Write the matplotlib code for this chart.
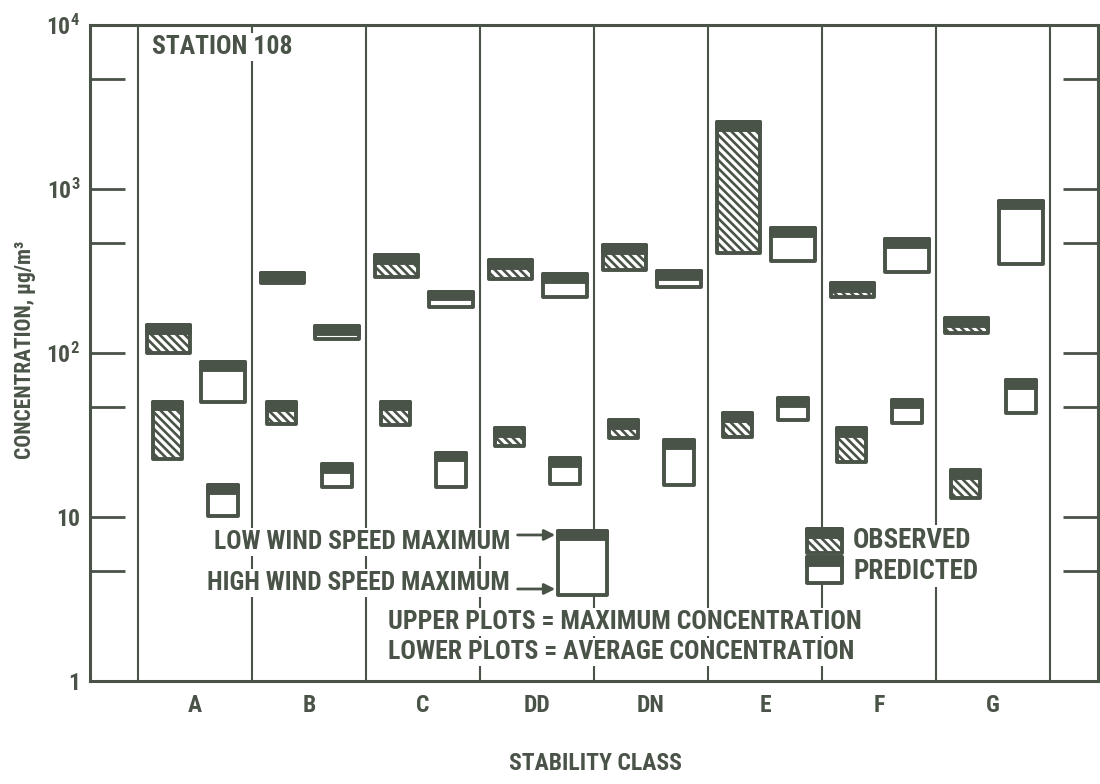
import matplotlib
matplotlib.use('Agg')
import matplotlib.pyplot as plt
from matplotlib import font_manager
from matplotlib.patches import Rectangle

classes = ['A', 'B', 'C', 'DD', 'DN', 'E', 'F', 'G']

# upper plots = maximum concentration, lower plots = average concentration
# each box runs from the high wind speed value (lo) to the low wind speed value (hi), ug/m3
obs_max_lo = [100, 266, 292, 281, 321, 405, 219, 132]
obs_max_hi = [148, 306, 396, 369, 456, 2570, 266, 164]
pred_max_lo = [50, 122, 192, 220, 254, 365, 313, 349]
pred_max_hi = [88, 146, 237, 302, 316, 576, 493, 849]
obs_avg_lo = [22.5, 36.7, 36.4, 27.1, 30.2, 30.9, 21.5, 13.0]
obs_avg_hi = [50.5, 50, 50.5, 34.7, 39, 42.9, 34.7, 19.4]
pred_avg_lo = [10.2, 15.3, 15.3, 15.9, 15.7, 39, 37.3, 42.9]
pred_avg_hi = [15.7, 21, 24.7, 22.8, 29.5, 53, 52, 68.4]

y_ticks = [1, 10, 100, 1000, 10000]
y_tick_labels = ['1', '10', r'$\mathbf{10^2}$', r'$\mathbf{10^3}$', r'$\mathbf{10^4}$']
y_minor = [4.7, 47, 470, 4700]

INK = '#4a5347'
BAND = 1.115


def pick_font():
    names = {f.name for f in font_manager.fontManager.ttflist}
    for name in ['Liberation Sans Narrow', 'DejaVu Sans Condensed', 'Roboto Condensed', 'Liberation Sans']:
        if name in names:
            return name
    return 'DejaVu Sans'


def draw_box(ax, x, w, lo, hi, hatched):
    ax.add_patch(Rectangle((x - w / 2, lo), w, hi - lo, facecolor='white', edgecolor=INK,
                           lw=2.8, hatch='\\\\\\\\' if hatched else None, joinstyle='round', zorder=3))
    ax.add_patch(Rectangle((x - w / 2, hi / BAND), w, hi - hi / BAND, facecolor=INK, edgecolor=INK,
                           lw=2.8, joinstyle='round', zorder=4))


font = pick_font()
plt.rcParams['font.family'] = [font, 'DejaVu Sans']
plt.rcParams['font.weight'] = 'bold'
plt.rcParams['mathtext.fontset'] = 'custom'
plt.rcParams['mathtext.rm'] = font + ':bold'
plt.rcParams['mathtext.bf'] = font + ':bold'
plt.rcParams['mathtext.it'] = font + ':bold'
plt.rcParams['hatch.linewidth'] = 1.9
plt.rcParams['hatch.color'] = INK
plt.rcParams['text.color'] = INK

fig = plt.figure(figsize=(11, 7.84), dpi=100)
ax = fig.add_axes([90 / 1100, 1 - 681 / 784, 1008 / 1100, 656 / 784])
ax.set_yscale('log')
ax.set_ylim(1, 10000)
ax.set_xlim(-0.921, 7.921)

for s in ax.spines.values():
    s.set_color(INK)
    s.set_linewidth(2.2)

for i in range(len(classes) + 1):
    ax.axvline(i - 0.5, color=INK, lw=1.5, zorder=1)

ax.set_yticks(y_ticks)
ax.set_yticklabels(y_tick_labels)
ax.set_yticks(y_minor, minor=True)
ax.tick_params(axis='y', which='both', direction='in', length=25, width=2.0, color=INK,
               left=True, right=True, labelsize=17, labelcolor=INK, pad=7)
ax.set_xticks(range(len(classes)))
ax.set_xticklabels(classes)
ax.tick_params(axis='x', length=0, labelsize=17, labelcolor=INK, pad=9)

for i in range(len(classes)):
    draw_box(ax, i - 0.23, 0.38, obs_max_lo[i], obs_max_hi[i], True)
    draw_box(ax, i + 0.245, 0.38, pred_max_lo[i], pred_max_hi[i], False)
    draw_box(ax, i - 0.24, 0.26, obs_avg_lo[i], obs_avg_hi[i], True)
    draw_box(ax, i + 0.245, 0.26, pred_avg_lo[i], pred_avg_hi[i], False)

# explanation box
draw_box(ax, 3.4, 0.43, 3.35, 8.2, False)
box = dict(facecolor='white', edgecolor='none', pad=1.5)
ax.text(2.763, 7.04, 'LOW WIND SPEED MAXIMUM', ha='right', va='center', fontsize=18.3, bbox=box, zorder=5)
ax.text(2.763, 3.96, 'HIGH WIND SPEED MAXIMUM', ha='right', va='center', fontsize=18.3, bbox=box, zorder=5)
arrow = dict(arrowstyle='-|>', color=INK, lw=2, mutation_scale=16, shrinkA=0, shrinkB=0)
ax.annotate('', xy=(3.16, 7.77), xytext=(2.83, 7.77), arrowprops=arrow, zorder=5)
ax.annotate('', xy=(3.16, 3.64), xytext=(2.83, 3.64), arrowprops=arrow, zorder=5)
ax.text(1.693, 2.29, 'UPPER PLOTS = MAXIMUM CONCENTRATION', ha='left', va='center', fontsize=18.5, bbox=box, zorder=5)
ax.text(1.693, 1.50, 'LOWER PLOTS = AVERAGE CONCENTRATION', ha='left', va='center', fontsize=18.5, bbox=box, zorder=5)

# legend
draw_box(ax, 5.52, 0.31, 6.03, 8.45, True)
draw_box(ax, 5.52, 0.31, 3.96, 5.7, False)
ax.text(5.772, 7.14, 'OBSERVED', ha='left', va='center', fontsize=19.5, bbox=box, zorder=5)
ax.text(5.772, 4.68, 'PREDICTED', ha='left', va='center', fontsize=19.5, bbox=box, zorder=5)

ax.text(0.0615, 0.966, 'STATION 108', transform=ax.transAxes, ha='left', va='center',
        fontsize=18.5, bbox=box, zorder=5)

fig.text(25 / 1100, 1 - 350 / 784, 'CONCENTRATION, μg/m³', rotation=90, ha='center', va='center',
         fontsize=15.5)
fig.text(595 / 1100, 1 - 763 / 784, 'STABILITY CLASS', ha='center', va='center', fontsize=17)

fig.savefig('out.png', dpi=100, facecolor='white')
